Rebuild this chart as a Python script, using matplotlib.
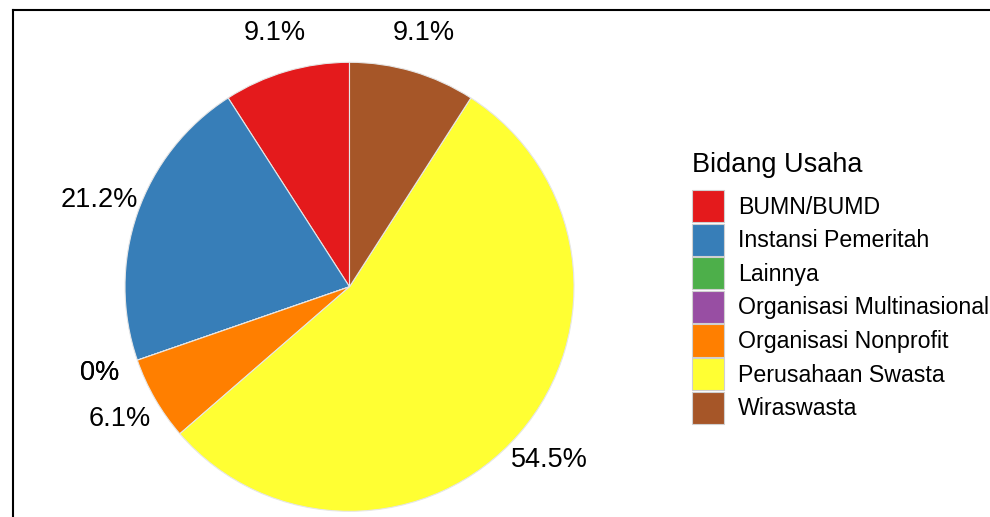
import matplotlib.pyplot as plt
from matplotlib.patches import Patch
from matplotlib.lines import Line2D

plt.rcParams['font.family'] = ['Liberation Sans', 'DejaVu Sans']

categories = ['BUMN/BUMD', 'Instansi Pemeritah', 'Lainnya', 'Organisasi Multinasional',
              'Organisasi Nonprofit', 'Perusahaan Swasta', 'Wiraswasta']
counts = [3, 7, 0, 0, 2, 18, 3]
colors = ['#E41A1C', '#377EB8', '#4DAF4A', '#984EA3', '#FF7F00', '#FFFF33', '#A65628']


def fmt(p):
    s = f'{p:.1f}'
    if s.endswith('.0'):
        s = s[:-2]
    return s + '%'


W, H = 990, 517
fig = plt.figure(figsize=(W / 100, H / 100), dpi=100)

# pie centre and radius in pixels
cx, cy, R = 349.5, 286.8, 224.5
lim = 1.3
side = 2 * lim * R
ax = fig.add_axes([(cx - side / 2) / W, (H - cy - side / 2) / H, side / W, side / H])
wedges, texts, autotexts = ax.pie(counts, colors=colors, startangle=90, counterclock=True,
                                  autopct=fmt, pctdistance=1.18,
                                  wedgeprops=dict(edgecolor='#e6e6e6', linewidth=0.8),
                                  textprops=dict(fontsize=19.5, color='black'))
ax.set_xlim(-lim, lim)
ax.set_ylim(-lim, lim)
ax.set_aspect('auto')
ax.axis('off')

# frame lines of the crop
fig.add_artist(Line2D([12.5 / W, 1], [1 - 9.5 / H, 1 - 9.5 / H], color='black', lw=1.5))
fig.add_artist(Line2D([12.5 / W, 12.5 / W], [0, 1 - 9.5 / H], color='black', lw=1.5))

fig.text(692 / W, 1 - 172 / H, 'Bidang Usaha', fontsize=19.5, va='baseline', ha='left')
handles = [Patch(facecolor=c, edgecolor='#d0d0d0', linewidth=0.8) for c in colors]
leg = fig.legend(handles, categories, loc='upper left',
                 bbox_to_anchor=(692 / W, 1 - 190 / H), frameon=False,
                 fontsize=16.7,
                 handlelength=1.38, handleheight=1.76, labelspacing=0.06,
                 handletextpad=0.62, borderpad=0, borderaxespad=0)

fig.savefig('out.png', dpi=100)
